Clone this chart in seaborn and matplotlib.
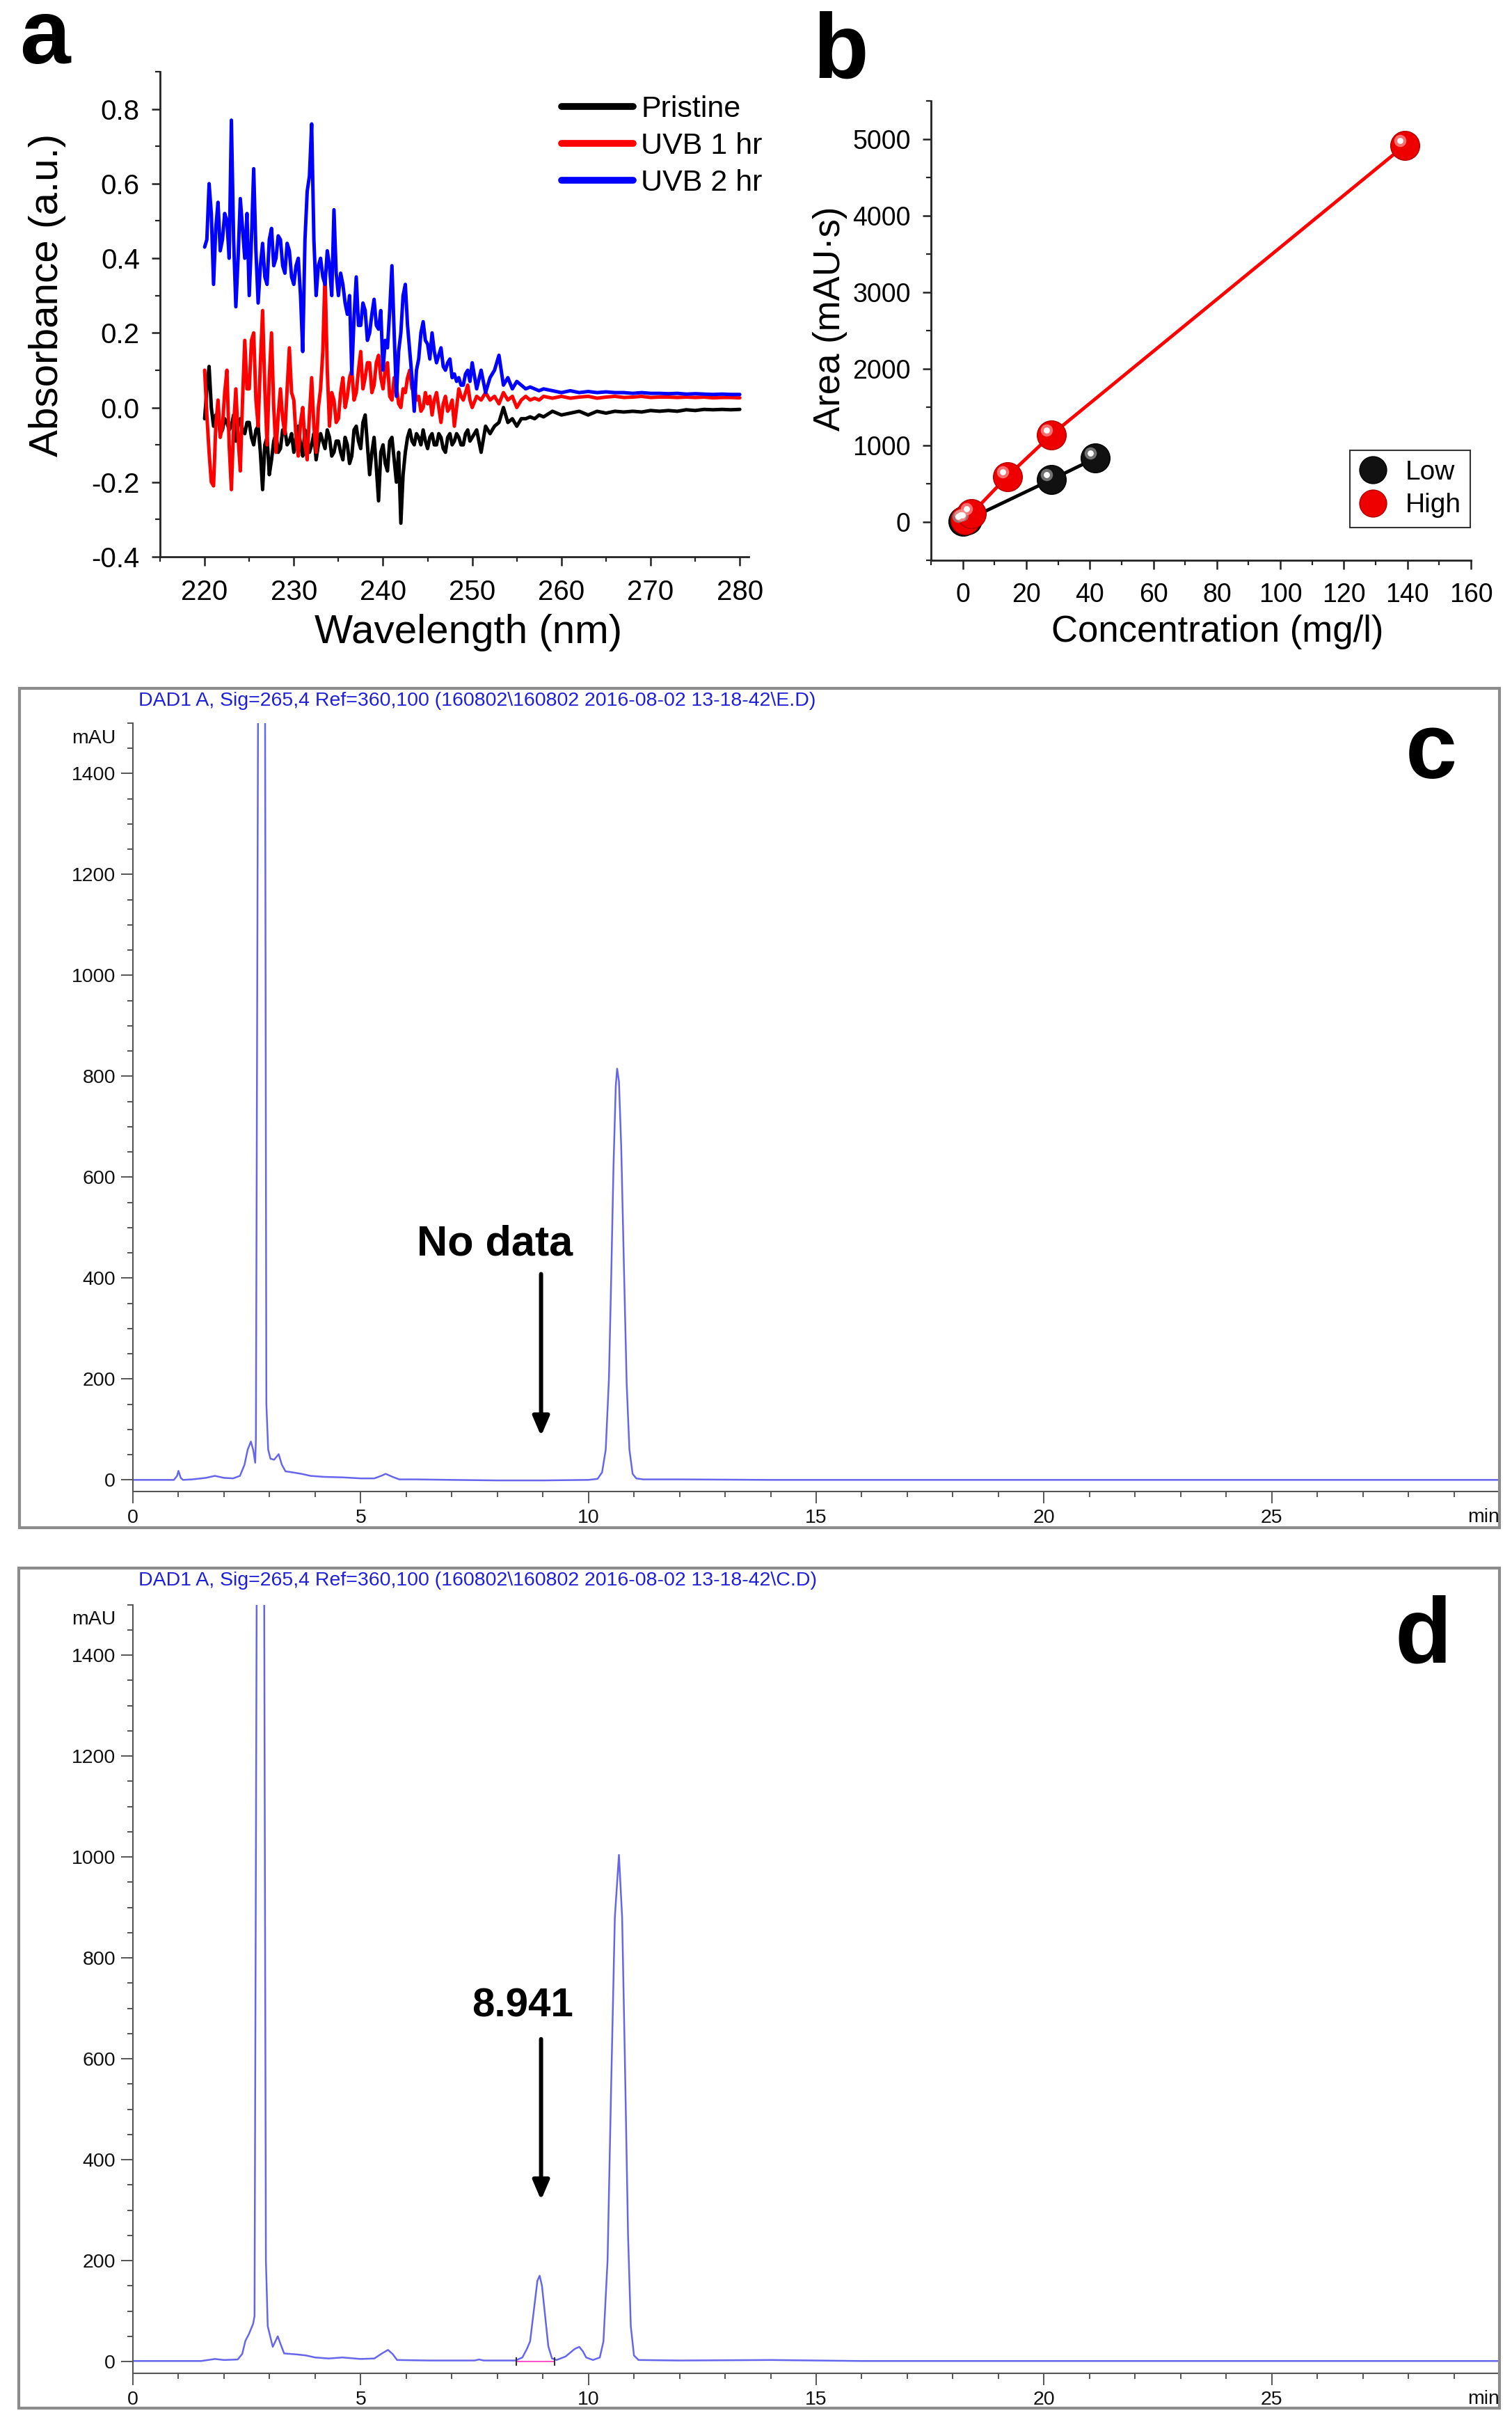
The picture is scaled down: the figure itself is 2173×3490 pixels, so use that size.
import numpy as np
import pandas as pd
import seaborn as sns
import matplotlib
matplotlib.use("Agg")
import matplotlib.pyplot as plt
from matplotlib.ticker import MultipleLocator, FormatStrFormatter
from matplotlib.patches import Rectangle
from matplotlib.lines import Line2D
from matplotlib.transforms import offset_copy

# ---------- panel a : UV absorbance spectra ----------
# 0.25 nm steps to 250, 0.5 nm to 258, then 1 nm to 280
wavelength = np.concatenate([np.arange(220, 250.01, 0.25),
                             np.arange(250.5, 258.01, 0.5),
                             np.arange(259, 280.01, 1.0)])

pristine = [
    -0.03, 0.05, 0.11, 0.00, -0.05, -0.02, -0.02, -0.07, -0.06, -0.03,
    -0.04, -0.06, -0.05, -0.02, -0.09, -0.05, -0.03, -0.06, -0.07, -0.04,
    -0.04, -0.08, -0.10, -0.06, -0.05, -0.12, -0.22, -0.10, -0.08, -0.18,
    -0.14, -0.09, -0.07, -0.12, -0.11, -0.06, -0.06, -0.10, -0.09, -0.07,
    -0.12, -0.08, -0.05, -0.10, -0.13, -0.06, -0.08, -0.12, -0.10, -0.07,
    -0.14, -0.10, -0.07, -0.09, -0.11, -0.06, -0.08, -0.13, -0.12, -0.09,
    -0.09, -0.12, -0.14, -0.08, -0.10, -0.15, -0.13, -0.06, -0.05, -0.09,
    -0.11, -0.04, -0.02, -0.10, -0.18, -0.12, -0.08, -0.16, -0.25, -0.12,
    -0.10, -0.15, -0.17, -0.09, -0.08, -0.14, -0.20, -0.12, -0.31, -0.18,
    -0.12, -0.08, -0.06, -0.09, -0.10, -0.07, -0.08, -0.10, -0.06, -0.09,
    -0.11, -0.08, -0.07, -0.10, -0.10, -0.07, -0.08, -0.11, -0.12, -0.08,
    -0.07, -0.10, -0.09, -0.07, -0.08, -0.10, -0.10, -0.07, -0.06, -0.09,
    -0.08,
    -0.06, -0.12, -0.05, -0.07, -0.05, -0.04, 0.00, -0.04,
    -0.03, -0.05, -0.03, -0.03, -0.025, -0.03, -0.02, -0.025,
    -0.01, -0.02, -0.015, -0.01, -0.02, -0.01, -0.015, -0.01, -0.012, -0.01, -0.012,
    -0.008, -0.01, -0.008, -0.01, -0.006, -0.008, -0.005, -0.006, -0.005, -0.006, -0.005]

uvb_1hr = [
    0.10, -0.02, -0.12, -0.20, -0.21, -0.05, 0.02, -0.08, -0.05, 0.04,
    0.10, -0.10, -0.22, -0.05, 0.05, -0.08, -0.17, 0.02, 0.18, 0.05,
    0.05, 0.18, 0.20, 0.02, -0.05, 0.12, 0.26, 0.05, -0.10, 0.08,
    0.20, 0.00, -0.12, -0.02, 0.05, -0.03, -0.07, 0.05, 0.16, 0.04,
    0.02, -0.08, -0.13, -0.04, 0.00, -0.10, -0.14, -0.02, 0.08, -0.05,
    -0.12, 0.00, 0.05, 0.15, 0.36, 0.10, -0.05, 0.04, 0.02, -0.04,
    -0.03, 0.04, 0.08, 0.00, 0.03, 0.08, 0.10, 0.02, 0.04, 0.10,
    0.15, 0.05, 0.08, 0.12, 0.12, 0.04, 0.06, 0.12, 0.14, 0.08,
    0.05, 0.10, 0.12, 0.03, 0.02, 0.08, 0.06, 0.01, 0.00, 0.05,
    0.04, 0.08, 0.10, 0.05, 0.06, 0.02, 0.03, -0.01, 0.00, 0.04,
    0.01, 0.03, -0.02, 0.02, 0.04, 0.00, -0.04, 0.01, 0.03, -0.01,
    0.00, 0.02, -0.05, 0.00, 0.05, 0.03, 0.02, 0.04, 0.06, 0.02,
    0.00,
    0.03, 0.02, 0.04, 0.02, 0.03, 0.01, 0.04, 0.02,
    0.03, 0.00, 0.02, 0.03, 0.02, 0.025, 0.02, 0.03,
    0.025, 0.03, 0.025, 0.028, 0.03, 0.025, 0.028, 0.03, 0.027, 0.028, 0.03,
    0.027, 0.028, 0.028, 0.027, 0.028, 0.027, 0.028, 0.026, 0.027, 0.027, 0.026]

uvb_2hr = [
    0.43, 0.45, 0.60, 0.52, 0.33, 0.48, 0.55, 0.42, 0.45, 0.52,
    0.50, 0.40, 0.77, 0.45, 0.27, 0.40, 0.56, 0.48, 0.40, 0.52,
    0.30, 0.45, 0.64, 0.42, 0.28, 0.38, 0.44, 0.35, 0.33, 0.45,
    0.48, 0.38, 0.40, 0.46, 0.45, 0.38, 0.36, 0.44, 0.42, 0.35,
    0.33, 0.38, 0.40, 0.30, 0.15, 0.45, 0.58, 0.62, 0.76, 0.45,
    0.30, 0.38, 0.40, 0.35, 0.33, 0.42, 0.38, 0.30, 0.53, 0.36,
    0.30, 0.36, 0.33, 0.28, 0.25, 0.30, 0.09, 0.24, 0.35, 0.22,
    0.22, 0.28, 0.26, 0.18, 0.20, 0.25, 0.29, 0.22, 0.21, 0.26,
    0.10, 0.18, 0.16, 0.26, 0.38, 0.20, 0.03, 0.15, 0.20, 0.30,
    0.33, 0.22, 0.15, 0.08, -0.01, 0.10, 0.13, 0.20, 0.23, 0.18,
    0.17, 0.13, 0.20, 0.15, 0.12, 0.14, 0.16, 0.11, 0.10, 0.12,
    0.13, 0.08, 0.09, 0.07, 0.08, 0.06, 0.06, 0.09, 0.10, 0.07,
    0.12,
    0.05, 0.10, 0.04, 0.08, 0.10, 0.14, 0.06, 0.08,
    0.05, 0.07, 0.06, 0.05, 0.055, 0.05, 0.045, 0.05,
    0.045, 0.04, 0.045, 0.04, 0.043, 0.04, 0.042, 0.04, 0.04, 0.038, 0.04,
    0.038, 0.038, 0.037, 0.038, 0.036, 0.037, 0.036, 0.035, 0.036, 0.035, 0.035]

spectra_labels = ["Pristine", "UVB 1 hr", "UVB 2 hr"]
spectra_colors = ["black", "#ff0000", "#0000ff"]

# ---------- panel b : calibration ----------
low_conc = [0.0, 1.4, 27.8, 41.7]
low_area = [5, 28, 551, 832]
high_conc = [0.7, 2.8, 14.0, 27.8, 139.2]
high_area = [25, 110, 595, 1135, 4920]

# ---------- panels c, d : chromatograms ----------
c_time = [
    0.0, 0.9, 0.97, 1.0, 1.05, 1.1, 1.3, 1.6, 1.8, 2.0,
    2.2, 2.35, 2.45, 2.52, 2.59, 2.64, 2.685, 2.70, 2.75, 2.82,
    2.90, 2.93, 2.97, 3.02, 3.1, 3.2, 3.27, 3.35, 3.5, 3.7,
    3.9, 4.2, 4.6, 5.0, 5.3, 5.45, 5.55, 5.7, 5.85, 6.2,
    7.0, 8.0, 9.0, 10.0, 10.2, 10.3, 10.38, 10.45, 10.5, 10.55,
    10.6, 10.63, 10.67, 10.72, 10.78, 10.84, 10.9, 10.97, 11.05, 11.2,
    12.0, 14.0, 16.0, 20.0, 25.0, 30.0]
c_mau = [
    0, 0, 8, 18, 4, 0, 1, 4, 8, 4,
    3, 8, 30, 60, 76, 60, 34, 80, 1600, 5000,
    1600, 150, 60, 42, 40, 51, 30, 17, 15, 12,
    8, 6, 5, 3, 3, 8, 12, 6, 1, 1,
    0, -1, -1, 0, 2, 15, 60, 200, 400, 620,
    780, 815, 790, 660, 420, 190, 60, 12, 3, 1,
    1, 0, 0, 0, 0, 0]

d_time = [
    0.0, 1.5, 1.8, 2.0, 2.3, 2.4, 2.47, 2.55, 2.64, 2.67,
    2.72, 2.80, 2.88, 2.92, 2.96, 3.07, 3.18, 3.24, 3.32, 3.6,
    3.8, 4.0, 4.3, 4.6, 5.0, 5.3, 5.45, 5.6, 5.7, 5.8,
    6.5, 7.5, 7.6, 7.7, 8.4, 8.55, 8.65, 8.72, 8.8, 8.88,
    8.93, 8.98, 9.05, 9.12, 9.2, 9.3, 9.5, 9.7, 9.8, 9.88,
    9.95, 10.1, 10.25, 10.33, 10.42, 10.5, 10.58, 10.67, 10.74, 10.8,
    10.87, 10.93, 11.0, 11.1, 12.0, 14.0, 16.0, 20.0, 25.0, 30.0]
d_mau = [
    1, 1, 5, 3, 4, 15, 41, 55, 75, 90,
    1600, 5000, 1600, 200, 70, 29, 50, 35, 16, 14,
    12, 8, 6, 8, 5, 6, 15, 23, 15, 3,
    2, 2, 4, 2, 2, 8, 25, 40, 100, 160,
    170, 150, 90, 30, 6, 3, 10, 25, 29, 20,
    8, 3, 8, 40, 200, 550, 880, 1004, 880, 600,
    250, 70, 12, 3, 2, 3, 1, 1, 1, 1]

d_baseline_time = [8.41, 9.25]
d_baseline_mau = [0.5, 0.5]

c_header = r"DAD1 A, Sig=265,4 Ref=360,100 (160802\160802 2016-08-02 13-18-42\E.D)"
d_header = r"DAD1 A, Sig=265,4 Ref=360,100 (160802\160802 2016-08-02 13-18-42\C.D)"

sns.set_theme(style="ticks")
plt.rcParams["font.family"] = ["Liberation Sans", "DejaVu Sans"]
plt.rcParams["axes.unicode_minus"] = False
plt.rcParams["text.color"] = "black"
plt.rcParams["axes.labelcolor"] = "black"
plt.rcParams["xtick.labelcolor"] = "black"
plt.rcParams["ytick.labelcolor"] = "black"

W, H = 2173, 3490
fig = plt.figure(figsize=(W / 100, H / 100), dpi=100)


def rect(l, t, r, b):
    return [l / W, 1 - b / H, (r - l) / W, (b - t) / H]


ax_a = fig.add_axes(rect(230, 103, 1076, 800))
ax_b = fig.add_axes(rect(1338, 145, 2114, 805))
ax_c = fig.add_axes(rect(191, 1038.8, 2155, 2143))
ax_d = fig.add_axes(rect(191, 2305.5, 2155, 3409.7))

# ---- panel a ----
for vals, lab, col in zip([pristine, uvb_1hr, uvb_2hr], spectra_labels, spectra_colors):
    df = pd.DataFrame({"wl": wavelength, "absorbance": vals})
    sns.lineplot(data=df, x="wl", y="absorbance", color=col, lw=3.6, label=lab,
                 estimator=None, sort=False, ax=ax_a)
ax_a.set_xlim(215, 281)
ax_a.set_ylim(-0.4, 0.9)
ax_a.set_xticks(range(220, 281, 10))
ax_a.xaxis.set_minor_locator(MultipleLocator(5))
ax_a.set_yticks(np.arange(-0.4, 0.81, 0.2))
ax_a.yaxis.set_minor_locator(MultipleLocator(0.1))
ax_a.yaxis.set_major_formatter(FormatStrFormatter("%.1f"))
ax_a.set_xlabel("Wavelength (nm)", fontsize=42)
ax_a.set_ylabel("Absorbance (a.u.)", fontsize=42)
ax_a.xaxis.set_label_coords(0.524, -0.118)
ax_a.yaxis.set_label_coords(-0.160, 0.54)
leg_a = ax_a.legend(loc="upper left", bbox_to_anchor=(807 / W, 1 - 137 / H),
                    bbox_transform=fig.transFigure, frameon=False, fontsize=31,
                    handlelength=2.4, handletextpad=0.25, labelspacing=0.3,
                    borderpad=0, borderaxespad=0)
for ln in leg_a.get_lines():
    ln.set_linewidth(7)

# ---- panel b ----
sns.lineplot(x=low_conc, y=low_area, color="black", lw=3.5, estimator=None, sort=False, ax=ax_b)
sns.lineplot(x=high_conc, y=high_area, color="#ff0000", lw=3.5, estimator=None, sort=False, ax=ax_b)
sns.scatterplot(x=low_conc, y=low_area, s=900, color="#111111", edgecolor="#000000",
                linewidth=1, zorder=3, legend=False, ax=ax_b)
sns.scatterplot(x=high_conc, y=high_area, s=900, color="#ee0000", edgecolor="#b00000",
                linewidth=1, zorder=3, legend=False, ax=ax_b)
hl = offset_copy(ax_b.transData, fig=fig, x=-7, y=7, units="dots")
for xs, ys, c1 in [(low_conc, low_area, "#8a8a8a"), (high_conc, high_area, "#ff8c8c")]:
    ax_b.scatter(xs, ys, s=160, color=c1, alpha=0.8, lw=0, transform=hl, zorder=4)
    ax_b.scatter(xs, ys, s=40, color="white", lw=0, transform=hl, zorder=5)
ax_b.set_xlim(-10, 160)
ax_b.set_ylim(-500, 5500)
ax_b.set_xticks(range(0, 161, 20))
ax_b.xaxis.set_minor_locator(MultipleLocator(10))
ax_b.set_yticks(range(0, 5001, 1000))
ax_b.yaxis.set_minor_locator(MultipleLocator(500))
ax_b.set_xlabel("Concentration (mg/l)", fontsize=38)
ax_b.set_ylabel("Area (mAU·s)", fontsize=38)
ax_b.xaxis.set_label_coords(0.531, -0.118)
ax_b.yaxis.set_label_coords(-0.155, 0.526)
handles_b = [Line2D([], [], ls="", marker="o", ms=28, mfc="#111111", mec="#000000"),
             Line2D([], [], ls="", marker="o", ms=28, mfc="#ee0000", mec="#b00000")]
leg_b = ax_b.legend(handles_b, ["Low", "High"], loc="lower right",
                    bbox_to_anchor=(2113 / W, 1 - 758 / H), bbox_transform=fig.transFigure,
                    frameon=True, fancybox=False, edgecolor="black", fontsize=28,
                    handlelength=1.0, handletextpad=0.7, borderpad=0.35, labelspacing=0.3,
                    borderaxespad=0)
leg_b.get_frame().set_linewidth(1.5)

for ax, lsize in [(ax_a, 29), (ax_b, 27)]:
    ax.spines[["top", "right"]].set_visible(False)
    for s in ["left", "bottom"]:
        ax.spines[s].set_linewidth(2)
        ax.spines[s].set_color("#222222")
    ax.tick_params(which="major", direction="out", length=9, width=1.8,
                   color="#222222", labelsize=lsize)
    ax.tick_params(which="minor", direction="out", length=5, width=1.6, color="#222222")
    ax.tick_params(axis="x", which="major", pad=14)
    ax.tick_params(axis="y", which="major", pad=12)

# ---- panels c, d ----
trace_col = "#6666ec"
sns.lineplot(x=c_time, y=c_mau, color=trace_col, lw=1.8, estimator=None, sort=False, ax=ax_c)
sns.lineplot(x=d_time, y=d_mau, color=trace_col, lw=1.8, estimator=None, sort=False, ax=ax_d)
sns.lineplot(x=d_baseline_time, y=d_baseline_mau, color="#ff55cc", lw=1.5,
             estimator=None, sort=False, ax=ax_d)
ax_d.plot(d_baseline_time, d_baseline_mau, ls="", marker="|", ms=9, mew=1.5, color="#333333")

for ax, header, y_head in [(ax_c, c_header, 1007), (ax_d, d_header, 2271)]:
    ax.set_xlim(0, 30)
    ax.set_ylim(-23, 1500)
    ax.set_xticks([0, 5, 10, 15, 20, 25])
    ax.xaxis.set_minor_locator(MultipleLocator(1))
    ax.set_yticks(range(0, 1401, 200))
    ax.yaxis.set_minor_locator(MultipleLocator(50))
    ax.spines[["top", "right"]].set_visible(False)
    for s in ["left", "bottom"]:
        ax.spines[s].set_linewidth(1.5)
        ax.spines[s].set_color("#555555")
    ax.tick_params(which="major", direction="out", length=12, width=1.4,
                   color="#555555", labelsize=20.5, pad=6, labelcolor="#111111")
    ax.tick_params(which="minor", direction="out", length=6, width=1.4, color="#555555")
    ax.set_xlabel("")
    ax.set_ylabel("")
    ax.text(-0.0127, 1470, "mAU", transform=ax.get_yaxis_transform(),
            ha="right", va="center", fontsize=20.5, color="#111111")
    ax.text(1.0, -0.022, "min", transform=ax.transAxes, ha="right", va="top",
            fontsize=20.5, color="#111111")
    fig.text(199 / W, 1 - y_head / H, header, ha="left", va="center",
             fontsize=20.5, color="#1f1fd8")

ax_c.text(7.95, 445, "No data", ha="center", va="baseline", fontsize=44,
          fontweight="bold", color="black")
ax_d.text(8.56, 684, "8.941", ha="center", va="baseline", fontsize=42,
          fontweight="bold", color="black")
arrow_kw = dict(arrowstyle="-|>,head_length=0.42,head_width=0.18", color="black",
                lw=4.3, mutation_scale=40, shrinkA=0, shrinkB=0)
ax_c.annotate("", xy=(8.96, 87), xytext=(8.96, 408), arrowprops=arrow_kw)
ax_d.annotate("", xy=(8.96, 320), xytext=(8.96, 639), arrowprops=arrow_kw)

# outer frames of the chromatogram panels
for l, t, r, b in [(28, 989, 2155, 2195), (27, 2253, 2155, 3460)]:
    fig.add_artist(Rectangle((l / W, 1 - b / H), (r - l) / W, (b - t) / H,
                             transform=fig.transFigure, fill=False,
                             ec="#8c8c8c", lw=3))

# panel letters
for x, y, letter, fs in [(28, 91, "a", 94), (1168, 112, "b", 94),
                         (2020, 1118, "c", 96), (2004, 2388, "d", 96)]:
    fig.text(x / W, 1 - y / H, letter, fontsize=fs, fontweight="bold",
             ha="left", va="baseline", color="black")

fig.savefig("out.png", dpi=100)
